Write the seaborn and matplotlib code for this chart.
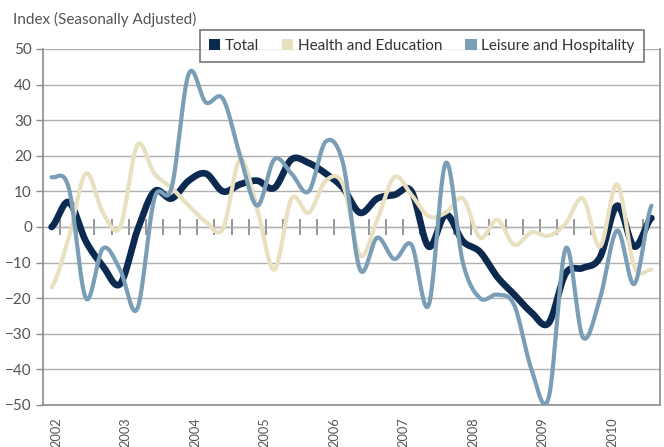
import numpy as np
import pandas as pd
import matplotlib
matplotlib.use("Agg")
import matplotlib.pyplot as plt
import matplotlib.patches as mpatches
import seaborn as sns

# quarterly index values, 2002Q1 .. 2010Q4
quarters = [f"{y}Q{q}" for y in range(2002, 2011) for q in range(1, 5)]
years = [str(y) for y in range(2002, 2011)]

total = [0, 7, -4, -11, -16, -1, 10, 8, 13, 15, 10, 12, 13, 11, 19, 18, 15, 11,
         4, 8, 9, 10, -5.5, 3.5, -4, -7, -14, -19, -24, -27, -13, -11.5, -8.5, 6, -5.5, 2.5]
health = [-17, -3, 15, 4, 0, 23, 15, 11, 6, 1.5, -0.5, 19, 5, -12, 8, 4, 13, 12,
          -8, 2, 14, 9, 3, 4, 8, -3, 2, -5, -1.5, -2.5, 1, 8, -5.5, 12, -11, -12]
leisure = [14, 11, -20, -6, -12, -23, 8, 11, 43, 35, 36, 20, 6, 19, 15, 10, 24, 18,
           -12, -3, -9, -5, -22, 18, -10, -20, -19, -22, -40, -48, -6, -31, -20, -1, -16, 6]

series_names = ["Total", "Health and Education", "Leisure and Hospitality"]
colors = ["#0c2a50", "#e9e0c0", "#7a9eb7"]
widths = [4.8, 3.0, 3.0]


def smooth(values, steps=24):
    # Catmull-Rom curve through the quarterly points (like a smoothed line chart)
    y = np.asarray(values, dtype=float)
    yp = np.concatenate([[y[0]], y, [y[-1]]])
    xs, ys = [], []
    t = np.linspace(0, 1, steps, endpoint=False)
    for i in range(len(y) - 1):
        p0, p1, p2, p3 = yp[i], yp[i + 1], yp[i + 2], yp[i + 3]
        seg = 0.5 * ((2 * p1) + (-p0 + p2) * t + (2 * p0 - 5 * p1 + 4 * p2 - p3) * t ** 2
                     + (-p0 + 3 * p1 - 3 * p2 + p3) * t ** 3)
        xs.extend(i + t)
        ys.extend(seg)
    xs.append(len(y) - 1)
    ys.append(y[-1])
    return np.array(xs), np.array(ys)


frames = []
for name, vals in zip(series_names, [total, health, leisure]):
    xs, ys = smooth(vals)
    frames.append(pd.DataFrame({"x": xs, "value": ys, "series": name}))
df = pd.concat(frames, ignore_index=True)

sns.set_style("white")
plt.rcParams["font.family"] = ["Lato", "DejaVu Sans"]
grey = "#8c8c8c"
text_col = "#555555"

fig = plt.figure(figsize=(6.64, 4.47), dpi=100)
ax = fig.add_axes([43 / 664, 42 / 447, 617 / 664, 356 / 447])

for name, col, lw in zip(series_names, colors, widths):
    sns.lineplot(data=df[df["series"] == name], x="x", y="value", color=col,
                 linewidth=lw, ax=ax, legend=False, sort=False, zorder=3)

ax.set_xlim(-0.5, len(quarters) - 0.5)
ax.set_ylim(-50, 50)
ax.set_yticks(range(-50, 51, 10))
ax.yaxis.grid(True, color="#b0b0b0", linewidth=1.0)
ax.set_axisbelow(True)
ax.tick_params(axis="y", left=True, direction="out", length=5, width=1, color=grey,
               labelsize=11, labelcolor=text_col, pad=3)

# year labels under the plot
ax.set_xticks([0.26 + 4.055 * i for i in range(len(years))])
ax.set_xticklabels(years, rotation=90, fontsize=9.2, color=text_col)
ax.tick_params(axis="x", length=0, pad=9)
ax.set_xlabel("")
ax.set_ylabel("")

for side in ["left", "bottom", "right"]:
    ax.spines[side].set_color(grey)
    ax.spines[side].set_linewidth(1.2)
ax.spines["top"].set_visible(False)

# zero line with quarter tick marks
zero = ax.secondary_xaxis(0.5)
zero.set_xticks([i + 0.5 for i in range(len(quarters) - 1)])
zero.set_xticklabels([])
zero.tick_params(axis="x", bottom=True, direction="out", length=6, width=1.3, color=grey)
zero.spines["bottom"].set_color("#888888")
zero.spines["bottom"].set_linewidth(3)

fig.text(13 / 664, 1 - 19 / 447, "Index (Seasonally Adjusted)", fontsize=11,
         color=text_col, va="center", ha="left")

handles = [mpatches.Patch(facecolor=c, edgecolor="none") for c in colors]
leg = fig.legend(handles, series_names, ncol=3, loc="upper right",
                 bbox_to_anchor=(644 / 664, 1 - 30 / 447), borderaxespad=0,
                 frameon=True, fancybox=False, fontsize=11, handlelength=0.75,
                 handleheight=0.75, handletextpad=0.3, columnspacing=1.5,
                 borderpad=0.6, labelcolor="#333333")
leg.get_frame().set_edgecolor("#555555")
leg.get_frame().set_linewidth(1.2)

fig.savefig("out.png", dpi=100)
